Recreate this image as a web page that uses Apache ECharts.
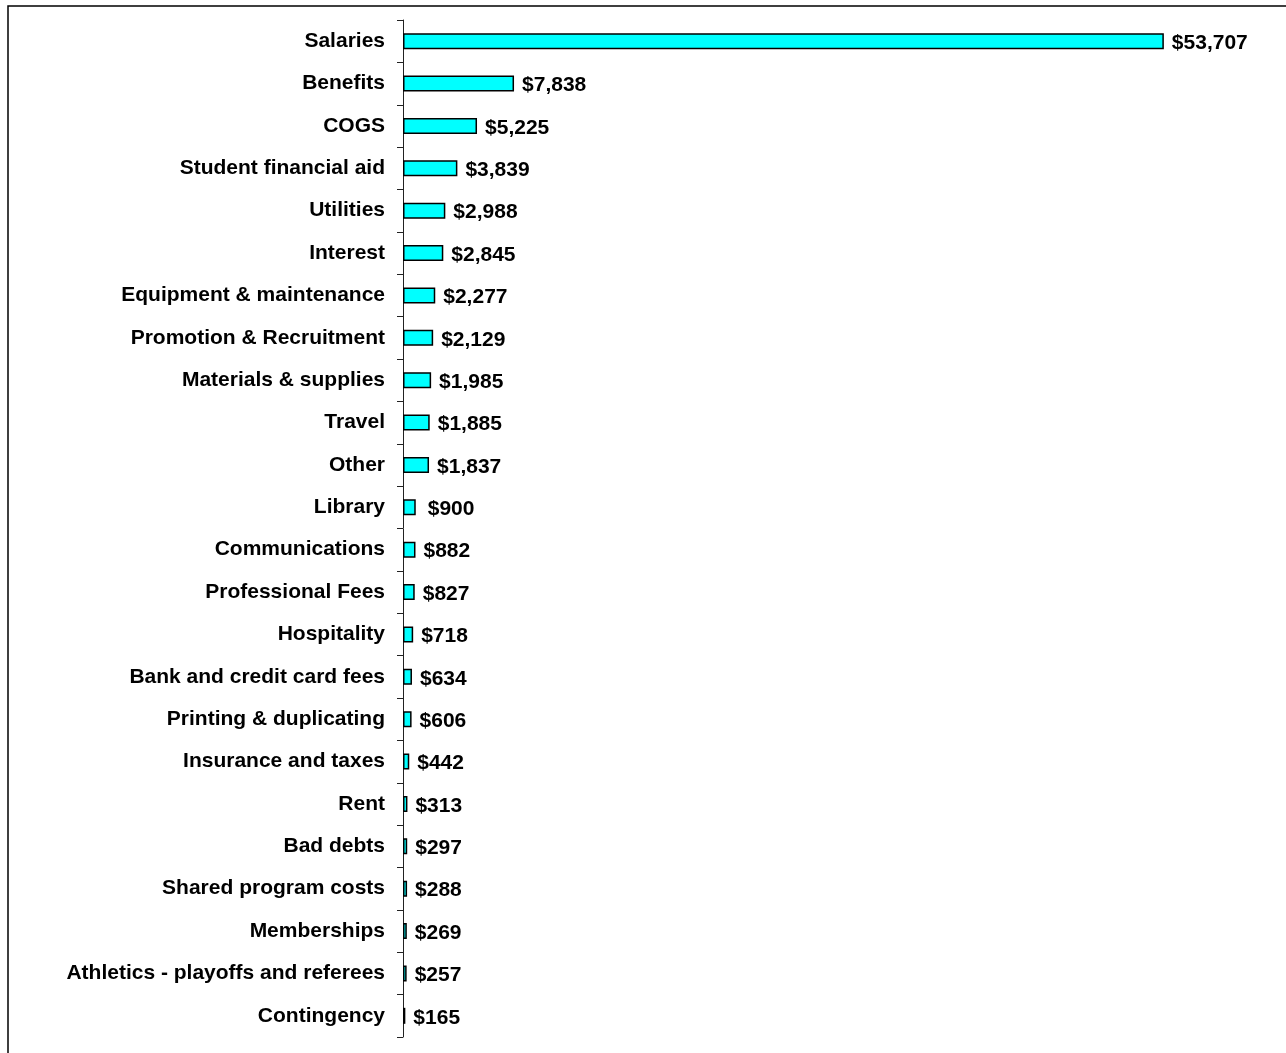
<!DOCTYPE html>
<html>
<head>
<meta charset="utf-8">
<title>Expenses by category</title>
<script src="https://cdn.jsdelivr.net/npm/echarts@6/dist/echarts.min.js"></script>
<style>
  html, body { margin: 0; padding: 0; background: #fff; }
  #chart { width: 1286px; height: 1053px; }
</style>
</head>
<body>
<div id="chart"></div>
<script>
// Expense categories, largest first
const categories = [
  'Salaries', 'Benefits', 'COGS', 'Student financial aid', 'Utilities', 'Interest',
  'Equipment & maintenance', 'Promotion & Recruitment', 'Materials & supplies', 'Travel',
  'Other', 'Library', 'Communications', 'Professional Fees', 'Hospitality',
  'Bank and credit card fees', 'Printing & duplicating', 'Insurance and taxes', 'Rent',
  'Bad debts', 'Shared program costs', 'Memberships', 'Athletics - playoffs and referees',
  'Contingency'
];

// Amounts in dollars
const amounts = [
  53707, 7838, 5225, 3839, 2988, 2845, 2277, 2129, 1985, 1885, 1837, 900, 882, 827, 718,
  634, 606, 442, 313, 297, 288, 269, 257, 165
];

const xMax = 60000;

const fmt = v => '$' + v.toLocaleString('en-US');

const chart = echarts.init(document.getElementById('chart'));

chart.setOption({
  animation: false,
  backgroundColor: '#fff',
  graphic: [{
    type: 'rect',
    shape: { x: 8, y: 6, width: 1300, height: 1100 },
    style: { fill: 'none', stroke: '#000', lineWidth: 1.5 },
    silent: true
  }],
  grid: { left: 403, top: 20, width: 850, bottom: 16 },
  xAxis: {
    type: 'value',
    min: 0,
    max: xMax,
    show: false
  },
  yAxis: {
    type: 'category',
    data: categories,
    inverse: true,
    axisLine: { show: true, lineStyle: { color: '#222', width: 1 } },
    axisTick: { show: true, length: 6, lineStyle: { color: '#222', width: 1 } },
    axisLabel: {
      margin: 18,
      color: '#000',
      fontFamily: 'Liberation Sans, Arial, sans-serif',
      fontWeight: 'bold',
      fontSize: 21,
      lineHeight: 21,
      padding: [4, 0, 0, 0]
    }
  },
  series: [{
    type: 'bar',
    data: amounts.map((v, i) => ({
      value: v,
      label: categories[i] === 'Library' ? { padding: [0, 0, 0, 4] } : undefined
    })),
    barWidth: 16,
    itemStyle: { color: '#00FFFF', borderColor: '#000', borderWidth: 1.5 },
    label: {
      show: true,
      position: 'right',
      distance: 8,
      offset: [0, 2],
      formatter: p => fmt(p.value),
      color: '#000',
      fontFamily: 'Liberation Sans, Arial, sans-serif',
      fontWeight: 'bold',
      fontSize: 21
    }
  }]
});
</script>
</body>
</html>
